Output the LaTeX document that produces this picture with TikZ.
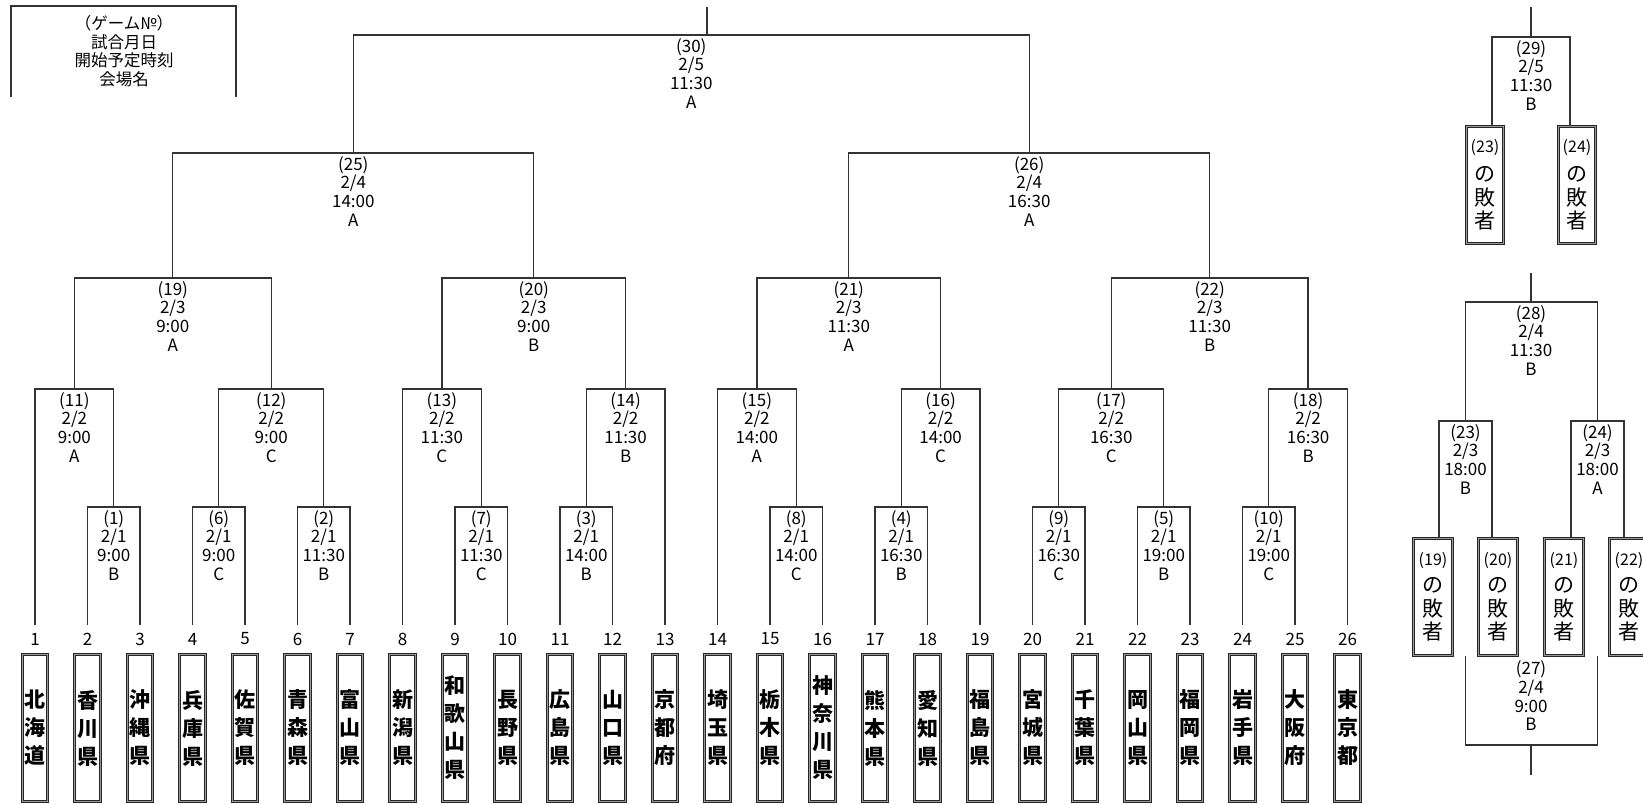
\documentclass[tikz,border=0pt]{standalone}
\usepackage{fontspec}
\setmainfont{Noto Sans CJK JP}
\usetikzlibrary{positioning}

\begin{document}
\begin{tikzpicture}[
    x=1pt, y=-1pt,
    br/.style={line width=1.3pt, black!80}, % 組み合わせ線
    lbl/.style={align=center, inner sep=0pt, font=\fontsize{17}{18.7}\selectfont}, % 試合情報
    num/.style={inner sep=0pt, font=\fontsize{17}{17}\selectfont}, % 抽選番号
    tbox/.style={draw=black!85, line width=1pt, double=black!40, double distance=1.3pt,
        minimum width=25.5pt, minimum height=146.5pt, inner sep=0pt, align=center,
        font=\fontsize{21}{28}\selectfont\bfseries}, % 都道府県名の枠
    lbox/.style={draw=black!85, line width=1pt, double=black!40, double distance=1.3pt,
        minimum width=37pt, minimum height=116.5pt, inner sep=0pt, align=center,
        font=\fontsize{21}{23.5}\selectfont} % 敗者の枠
]
    \useasboundingbox (0,0) rectangle (1643,805);

    % 凡例
    \coordinate (hl) at (11,97);
    \coordinate (hc) at (124,6);
    \coordinate (hr) at (236,97);
    \draw[br] (hl) |- (hc) -| (hr);
    \node[lbl, below=9pt of hc, font=\fontsize{16.5}{18.7}\selectfont] (head)
        {（ゲーム№）\\試合月日\\開始予定時刻\\会場名};

    % 出場チーム
    \foreach \i/\name in {1/{北\\海\\道}, 2/{香\\川\\県}, 3/{沖\\縄\\県}, 4/{兵\\庫\\県},
        5/{佐\\賀\\県}, 6/{青\\森\\県}, 7/{富\\山\\県}, 8/{新\\潟\\県}, 9/{和\\歌\\山\\県},
        10/{長\\野\\県}, 11/{広\\島\\県}, 12/{山\\口\\県}, 13/{京\\都\\府}, 14/{埼\\玉\\県},
        15/{栃\\木\\県}, 16/{神\\奈\\川\\県}, 17/{熊\\本\\県}, 18/{愛\\知\\県}, 19/{福\\島\\県},
        20/{宮\\城\\県}, 21/{千\\葉\\県}, 22/{岡\\山\\県}, 23/{福\\岡\\県}, 24/{岩\\手\\県},
        25/{大\\阪\\府}, 26/{東\\京\\都}} {
        \pgfmathsetmacro\x{35+52.5*(\i-1)}
        \coordinate (t\i) at (\x,625);
        \node[num] (n\i) at (\x,639) {\i};
        \node[tbox] (b\i) at (\x,728) {\name};
    }

    % 試合 (番号/x/y/日/時刻/会場)
    \foreach \g/\x/\y/\gd/\gt/\gv in {1/113.75/507/1/9:00/B, 6/218.75/507/1/9:00/C,
        2/323.75/507/1/11:30/B, 7/481.25/507/1/11:30/C, 3/586.25/507/1/14:00/B,
        8/796.25/507/1/14:00/C, 4/901.25/507/1/16:30/B, 9/1058.75/507/1/16:30/C,
        5/1163.75/507/1/19:00/B, 10/1268.75/507/1/19:00/C,
        11/74.375/389/2/9:00/A, 12/271.25/389/2/9:00/C, 13/441.875/389/2/11:30/C,
        14/625.625/389/2/11:30/B, 15/756.875/389/2/14:00/A, 16/940.625/389/2/14:00/C,
        17/1111.25/389/2/16:30/C, 18/1308.125/389/2/16:30/B,
        19/172.8/278/3/9:00/A, 20/533.75/278/3/9:00/B,
        21/848.75/278/3/11:30/A, 22/1209.7/278/3/11:30/B,
        25/353.3/153/4/14:00/A, 26/1029.2/153/4/16:30/A,
        30/691.25/35/5/11:30/A} {
        \coordinate (g\g) at (\x,\y);
        \node[lbl, below=3pt of g\g] (l\g) {(\g)\\2/\gd\\\gt\\\gv};
    }

    % 組み合わせ線
    \foreach \g/\a/\b in {1/t2/t3, 6/t4/t5, 2/t6/t7, 7/t9/t10, 3/t11/t12, 8/t15/t16,
        4/t17/t18, 9/t20/t21, 5/t22/t23, 10/t24/t25,
        11/t1/g1, 12/g6/g2, 13/t8/g7, 14/g3/t13, 15/t14/g8, 16/g4/t19, 17/g9/g5, 18/g10/t26,
        19/g11/g12, 20/g13/g14, 21/g15/g16, 22/g17/g18, 25/g19/g20, 26/g21/g22, 30/g25/g26} {
        \draw[br] (\a) |- (g\g) -| (\b);
    }
    \coordinate (s30) at (707,7);
    \draw[br] (s30) -- (s30 |- g30);

    % 3位決定戦
    \coordinate (g29) at (1531,37);
    \coordinate (s29) at (1531,7);
    \node[lbox] (lb23) at (1485,185) {{\fontsize{16}{16}\selectfont(23)}\\[6pt]の\\敗\\者};
    \node[lbox] (lb24) at (1577,185) {{\fontsize{16}{16}\selectfont(24)}\\[6pt]の\\敗\\者};
    \draw[br] ([xshift=7pt]lb23.north) |- (g29) -| ([xshift=-7pt]lb24.north);
    \draw[br] (g29) -- (s29);
    \node[lbl, below=3pt of g29] (l29) {(29)\\2/5\\11:30\\B};

    % 5位決定戦
    \foreach \k/\x in {19/1433, 20/1498, 21/1564, 22/1629} {
        \node[lbox, minimum width=38.5pt] (lb\k) at (\x,597)
            {{\fontsize{16}{16}\selectfont(\k)}\\[4pt]の\\敗\\者};
    }
    \coordinate (s28) at (1531,273);
    \coordinate (g28) at (1531,302);
    \coordinate (g23) at (1465.5,421);
    \coordinate (g24) at (1597.5,421);
    \draw[br] ([xshift=6pt]lb19.north) |- (g23) -| ([xshift=-6pt]lb20.north);
    \draw[br] ([xshift=7pt]lb21.north) |- (g24) -| ([xshift=-5pt]lb22.north);
    \draw[br] (g23) |- (g28) -| (g24);
    \draw[br] (g28) -- (s28);
    \node[lbl, below=3pt of g28] (l28) {(28)\\2/4\\11:30\\B};
    \node[lbl, below=3pt of g23] (l23) {(23)\\2/3\\18:00\\B};
    \node[lbl, below=3pt of g24] (l24) {(24)\\2/3\\18:00\\A};

    % 7位決定戦
    \coordinate (g27) at (1531,745);
    \coordinate (s27) at (1531,775);
    \draw[br] (g23 |- lb19.south) |- (g27) -| (g24 |- lb19.south);
    \draw[br] (g27) -- (s27);
    \node[lbl, above=14pt of g27] (l27) {(27)\\2/4\\9:00\\B};
\end{tikzpicture}
\end{document}
